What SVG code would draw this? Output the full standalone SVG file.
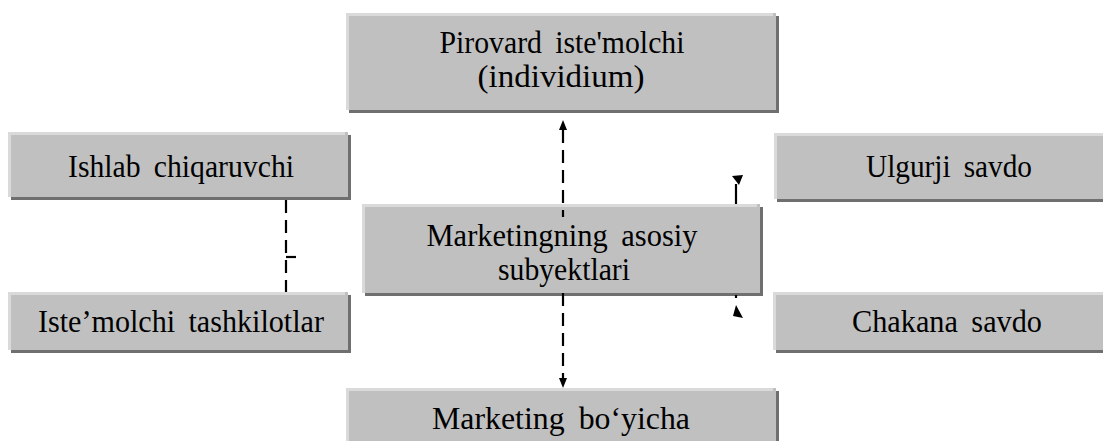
<svg xmlns="http://www.w3.org/2000/svg" width="1103" height="441" viewBox="0 0 1103 441">
<style>
.sh{fill:#6f6f6f}
.bx{fill:#c0c0c0}
.hl{fill:none;stroke:#dadada;stroke-width:3}
.t{font-family:'Liberation Serif','Times New Roman',serif;font-size:31px;fill:#000;text-anchor:middle;word-spacing:6px}
.dash{fill:none;stroke:#000;stroke-width:2.2;stroke-dasharray:13 7}
.ln{fill:none;stroke:#000;stroke-width:2.2}
.ah{fill:#000}
</style>
<rect width="1103" height="441" fill="#fff"/>
<g id="n-pirovard">
<rect class="sh" x="349" y="16" width="430" height="97"/>
<rect class="bx" x="346" y="13" width="430" height="97"/>
<path class="hl" d="M347.5,110 V14.5 H773"/>
<text class="t" x="562" y="53" textLength="245" lengthAdjust="spacingAndGlyphs">Pirovard iste'molchi</text>
<text class="t" x="561" y="87" textLength="167" lengthAdjust="spacingAndGlyphs">(individium)</text>
</g>
<g id="n-ishlab">
<rect class="sh" x="11" y="135" width="340" height="65"/>
<rect class="bx" x="8" y="132" width="340" height="65"/>
<path class="hl" d="M9.5,197 V133.5 H345"/>
<text class="t" x="181" y="177" textLength="226" lengthAdjust="spacingAndGlyphs">Ishlab chiqaruvchi</text>
</g>
<g id="n-istemolchi">
<rect class="sh" x="11" y="295" width="340" height="58"/>
<rect class="bx" x="8" y="292" width="340" height="58"/>
<path class="hl" d="M9.5,350 V293.5 H345"/>
<text class="t" x="181" y="332" textLength="286" lengthAdjust="spacingAndGlyphs">Iste’molchi tashkilotlar</text>
</g>
<g id="n-center">
<rect class="sh" x="365" y="207" width="398" height="89"/>
<rect class="bx" x="362" y="204" width="398" height="89"/>
<path class="hl" d="M363.5,293 V205.5 H757"/>
<text class="t" x="562" y="246" textLength="271" lengthAdjust="spacingAndGlyphs">Marketingning asosiy</text>
<text class="t" x="564" y="280" textLength="132" lengthAdjust="spacingAndGlyphs">subyektlari</text>
</g>
<g id="n-ulgurji">
<rect class="sh" x="777" y="136" width="340" height="66"/>
<rect class="bx" x="774" y="133" width="340" height="66"/>
<path class="hl" d="M775.5,199 V134.5 H1110"/>
<text class="t" x="949" y="177" textLength="166" lengthAdjust="spacingAndGlyphs">Ulgurji savdo</text>
</g>
<g id="n-chakana">
<rect class="sh" x="776" y="295" width="340" height="58"/>
<rect class="bx" x="773" y="292" width="340" height="58"/>
<path class="hl" d="M774.5,350 V293.5 H1110"/>
<text class="t" x="947" y="332" textLength="190" lengthAdjust="spacingAndGlyphs">Chakana savdo</text>
</g>
<g id="n-marketing">
<rect class="sh" x="349" y="391" width="430" height="60"/>
<rect class="bx" x="346" y="388" width="430" height="60"/>
<path class="hl" d="M347.5,448 V389.5 H773"/>
<text class="t" x="561" y="429" textLength="258" lengthAdjust="spacingAndGlyphs">Marketing bo‘yicha</text>
</g>
<g id="connectors">
<path class="dash" d="M563,130 V217"/>
<polygon class="ah" points="563,120 559,130 567,130"/>
<path class="dash" d="M563,293 V379"/>
<polygon class="ah" points="563,388 559,378 567,378"/>
<path class="dash" d="M286,200 V292"/>
<path class="ln" d="M286,257 H296"/>
<path class="ln" d="M736,184 V204"/>
<polygon class="ah" points="732,176 743,175 739,185"/>
<path class="ln" d="M736,295 V298"/>
<polygon class="ah" points="736,305 733,316 743,318"/>
</g>
</svg>
